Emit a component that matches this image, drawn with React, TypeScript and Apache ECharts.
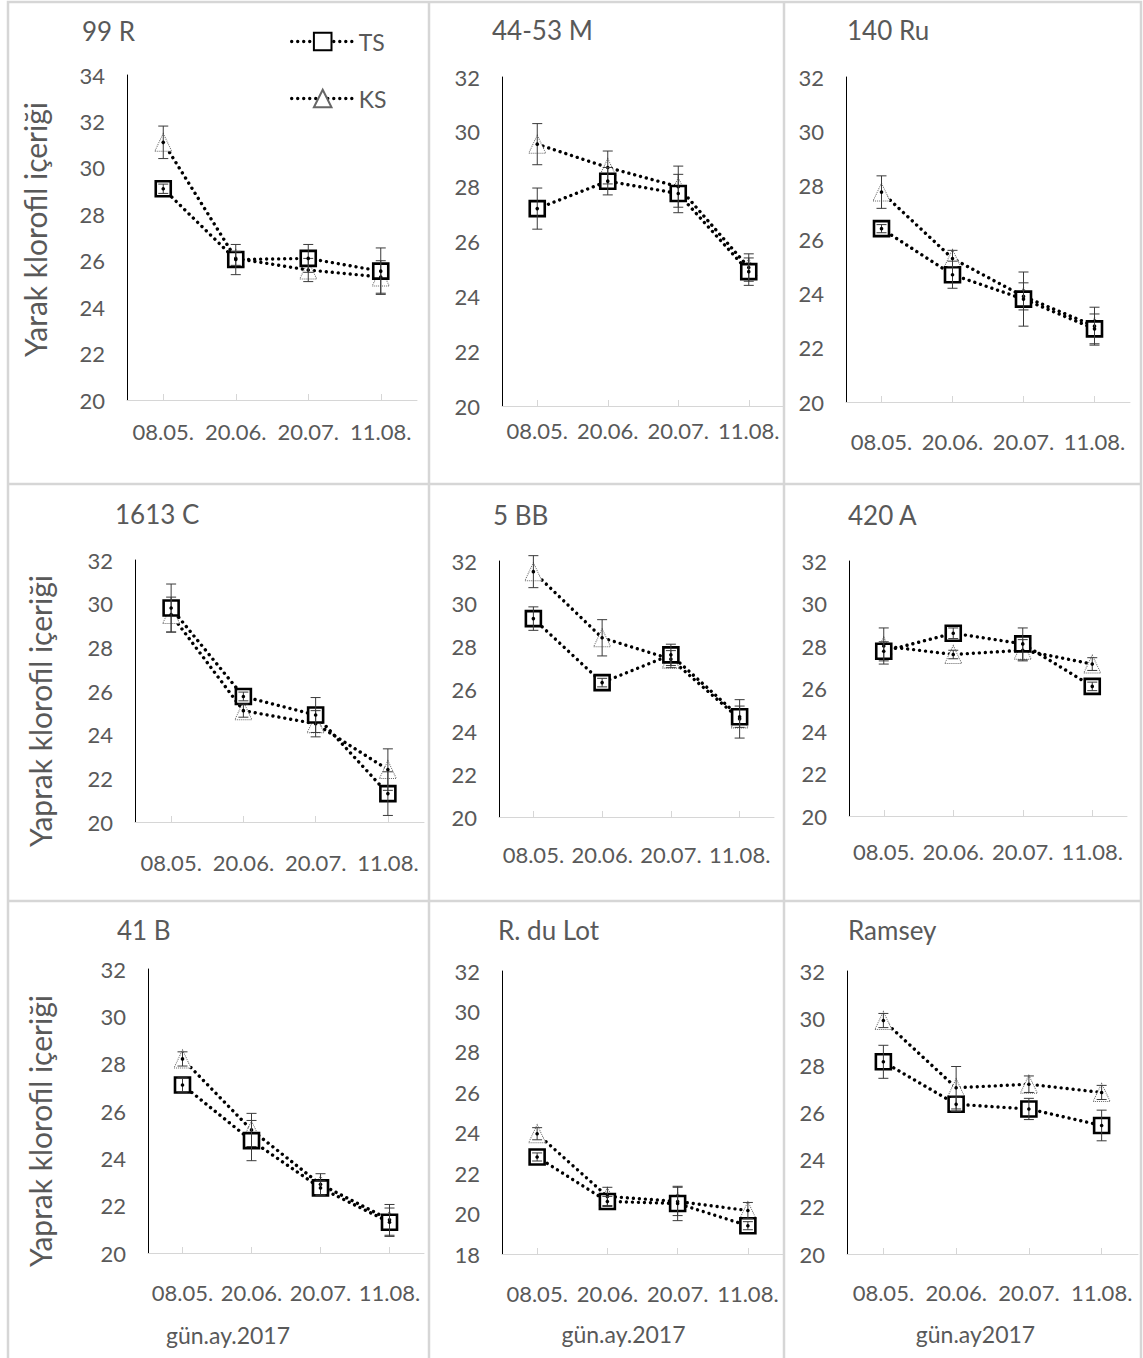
import { useEffect, useRef } from 'react';
import * as echarts from 'echarts';

// ---------- data ----------
const categories = ['08.05.', '20.06.', '20.07.', '11.08.'];
const panelNames = ['99 R', '44-53 M', '140 Ru', '1613 C', '5 BB', '420 A', '41 B', 'R. du Lot', 'Ramsey'];
const yAxisNames = ['Yarak klorofil içeriği', '', '', 'Yaprak klorofil içeriği', '', '', 'Yaprak klorofil içeriği', '', ''];
const xAxisNames = ['', '', '', '', '', '', 'gün.ay.2017', 'gün.ay.2017', 'gün.ay2017'];
const yMins = [20, 20, 20, 20, 20, 20, 20, 18, 20];
const yMaxs = [34, 32, 32, 32, 32, 32, 32, 32, 32];

const tsValues = [
  [29.1, 26.05, 26.1, 25.55],
  [27.2, 28.2, 27.75, 24.9],
  [26.4, 24.7, 23.8, 22.7],
  [29.8, 25.75, 24.9, 21.3],
  [29.3, 26.3, 27.6, 24.7],
  [27.75, 28.6, 28.1, 26.1],
  [27.1, 24.75, 22.75, 21.3],
  [22.8, 20.6, 20.5, 19.4],
  [28.15, 26.35, 26.15, 25.45],
];
const ksValues = [
  [31.1, 26.1, 25.6, 25.3],
  [29.55, 28.7, 28.0, 25.05],
  [27.75, 25.3, 23.9, 22.8],
  [29.5, 25.1, 24.5, 22.4],
  [31.5, 28.4, 27.4, 24.6],
  [28.0, 27.6, 27.8, 27.15],
  [28.2, 25.2, 22.9, 21.4],
  [23.95, 20.85, 20.6, 20.15],
  [29.9, 27.05, 27.2, 26.85],
];
const tsErrors = [
  [0.2, 0.65, 0.6, 1.0],
  [0.75, 0.5, 0.7, 0.5],
  [0.15, 0.5, 1.0, 0.55],
  [1.1, 0.2, 0.8, 1.0],
  [0.55, 0.2, 0.5, 0.5],
  [0.45, 0.25, 0.75, 0.2],
  [0.3, 0.85, 0.3, 0.6],
  [0.2, 0.25, 0.85, 0.2],
  [0.7, 0.3, 0.45, 0.65],
];
const ksErrors = [
  [0.7, 0.3, 0.5, 0.7],
  [0.75, 0.6, 0.75, 0.5],
  [0.6, 0.3, 0.5, 0.7],
  [0.8, 0.3, 0.6, 0.95],
  [0.75, 0.85, 0.4, 0.9],
  [0.85, 0.2, 0.5, 0.3],
  [0.3, 0.7, 0.45, 0.65],
  [0.3, 0.45, 0.7, 0.4],
  [0.3, 0.9, 0.35, 0.3],
];

// ---------- layout ----------
const layout = [
  { left: 127, top: 75, width: 290, height: 325, tx: 82, ty: 34, lm: 20, ng: 77, np: [0, 0, 0, 16], xng: 0, xnp: [0, 0, 0, 0] },
  { left: 502, top: 77, width: 282, height: 329, tx: 492, ty: 33, lm: 13, ng: 0, np: [0, 0, 0, 0], xng: 0, xnp: [0, 0, 0, 0] },
  { left: 846, top: 77, width: 284, height: 325, tx: 847, ty: 33, lm: 28, ng: 0, np: [0, 0, 0, 0], xng: 0, xnp: [0, 0, 0, 0] },
  { left: 135, top: 560, width: 289, height: 262, tx: 115, ty: 517, lm: 29, ng: 80, np: [0, 40, 0, 0], xng: 0, xnp: [0, 0, 0, 0] },
  { left: 499, top: 561, width: 275, height: 256, tx: 493, ty: 518, lm: 26, ng: 0, np: [0, 0, 0, 0], xng: 0, xnp: [0, 0, 0, 0] },
  { left: 849, top: 561, width: 278, height: 255, tx: 848, ty: 518, lm: 24, ng: 0, np: [0, 0, 0, 0], xng: 0, xnp: [0, 0, 0, 0] },
  { left: 148, top: 969, width: 276, height: 284, tx: 117, ty: 933, lm: 28, ng: 93, np: [0, 40, 0, 0], xng: 70, xnp: [0, 116, 0, 0] },
  { left: 502, top: 971, width: 281, height: 283, tx: 498, ty: 933, lm: 28, ng: 0, np: [0, 0, 0, 0], xng: 68, xnp: [0, 38, 0, 0] },
  { left: 847, top: 971, width: 291, height: 283, tx: 848, ty: 933, lm: 27, ng: 0, np: [0, 0, 0, 0], xng: 68, xnp: [0, 34, 0, 0] },
];

const FONT = 'Lato, "Open Sans", sans-serif';
const GRAY = '#595959';
const BORDER = '#d6d6d6';
const W = 1143;
const H = 1358;

function errorSeries(i: number, vals: number[], errs: number[], name: string) {
  return {
    type: 'custom',
    name,
    xAxisIndex: i,
    yAxisIndex: i,
    z: 6,
    silent: true,
    data: vals.map((v, k) => [k, v, errs[k]]),
    encode: { x: 0, y: 1 },
    renderItem: (params: any, api: any) => {
      const c = api.coord([api.value(0), api.value(1)]);
      const t = api.coord([api.value(0), api.value(1) + api.value(2)]);
      const b = api.coord([api.value(0), api.value(1) - api.value(2)]);
      const hw = 5;
      const st = { stroke: '#3a3a3a', lineWidth: 1 };
      return {
        type: 'group',
        children: [
          { type: 'line', shape: { x1: c[0], y1: t[1], x2: c[0], y2: b[1] }, style: st },
          { type: 'line', shape: { x1: c[0] - hw, y1: t[1], x2: c[0] + hw, y2: t[1] }, style: st },
          { type: 'line', shape: { x1: c[0] - hw, y1: b[1], x2: c[0] + hw, y2: b[1] }, style: st },
          { type: 'circle', shape: { cx: c[0], cy: c[1], r: 1.8 }, style: { fill: '#000' } },
        ],
      };
    },
  };
}

export default function App() {
  const ref = useRef<HTMLDivElement>(null);
  useEffect(() => {
    if (!ref.current) return;
    const chart = echarts.init(ref.current, null, { renderer: 'svg' });

    const lineStyle = { color: '#000', width: 3.4, type: [0.01, 6], cap: 'round' };

    const grids: any[] = [];
    const xAxes: any[] = [];
    const yAxes: any[] = [];
    const titles: any[] = [];
    const series: any[] = [];

    layout.forEach((L, i) => {
      grids.push({ left: L.left, top: L.top, width: L.width, height: L.height, containLabel: false });
      titles.push({
        text: panelNames[i],
        left: L.tx,
        top: L.ty - 16,
        padding: 0,
        textStyle: { color: GRAY, fontSize: 26, fontWeight: 'normal', fontFamily: FONT },
      });
      xAxes.push({
        gridIndex: i,
        type: 'category',
        data: categories,
        boundaryGap: true,
        name: xAxisNames[i],
        nameLocation: 'middle',
        nameGap: L.xng,
        nameTextStyle: { color: GRAY, fontSize: 23, fontFamily: FONT, padding: L.xnp },
        axisLine: { show: true, lineStyle: { color: BORDER, width: 1 } },
        axisTick: { show: true, alignWithLabel: true, inside: true, length: 6, lineStyle: { color: BORDER } },
        axisLabel: { color: GRAY, fontSize: 22, fontFamily: FONT, margin: L.lm, interval: 0 },
        splitLine: { show: false },
      });
      yAxes.push({
        gridIndex: i,
        type: 'value',
        min: yMins[i],
        max: yMaxs[i],
        interval: 2,
        name: yAxisNames[i],
        nameLocation: 'middle',
        nameGap: L.ng,
        nameTextStyle: { color: GRAY, fontSize: 30, fontFamily: FONT, padding: L.np },
        axisLine: { show: true, lineStyle: { color: '#000', width: 1 } },
        axisTick: { show: false },
        splitLine: { show: false },
        axisLabel: { color: GRAY, fontSize: 22, fontFamily: FONT, margin: 22 },
      });
      series.push({
        type: 'line',
        name: 'KS',
        xAxisIndex: i,
        yAxisIndex: i,
        z: 3,
        data: ksValues[i],
        symbol: 'triangle',
        symbolSize: [17, 18],
        lineStyle,
        itemStyle: { color: '#ffffff', borderColor: '#666', borderWidth: 1, borderType: 'dotted' },
      });
      series.push({
        type: 'line',
        name: 'TS',
        xAxisIndex: i,
        yAxisIndex: i,
        z: 4,
        data: tsValues[i],
        symbol: 'rect',
        symbolSize: 15,
        lineStyle,
        itemStyle: { color: '#ffffff', borderColor: '#000', borderWidth: 2.6 },
      });
      series.push(errorSeries(i, ksValues[i], ksErrors[i], 'KS hata'));
      series.push(errorSeries(i, tsValues[i], tsErrors[i], 'TS hata'));
    });

    const bs = { stroke: BORDER, lineWidth: 2.5, fill: 'none' };
    const graphic: any[] = [
      { type: 'rect', shape: { x: 8, y: 2, width: 1133, height: 1360 }, style: bs, silent: true },
      { type: 'line', shape: { x1: 429, y1: 2, x2: 429, y2: H }, style: bs, silent: true },
      { type: 'line', shape: { x1: 784, y1: 2, x2: 784, y2: H }, style: bs, silent: true },
      { type: 'line', shape: { x1: 8, y1: 484, x2: 1141, y2: 484 }, style: bs, silent: true },
      { type: 'line', shape: { x1: 8, y1: 901, x2: 1141, y2: 901 }, style: bs, silent: true },
    ];

    chart.setOption({
      animation: false,
      backgroundColor: '#ffffff',
      textStyle: { fontFamily: FONT },
      title: titles,
      grid: grids,
      xAxis: xAxes,
      yAxis: yAxes,
      legend: {
        data: ['TS', 'KS'],
        orient: 'vertical',
        left: 285,
        top: 25,
        itemWidth: 62,
        itemHeight: 22,
        itemGap: 34,
        selectedMode: false,
        lineStyle: { width: 3.4, type: [0.01, 6], cap: 'round', color: '#000' },
        textStyle: { color: GRAY, fontSize: 23, fontFamily: FONT },
      },
      graphic,
      series,
    });
    return () => chart.dispose();
  }, []);

  return <div ref={ref} style={{ position: 'fixed', left: 0, top: 0, width: W, height: H }} />;
}
